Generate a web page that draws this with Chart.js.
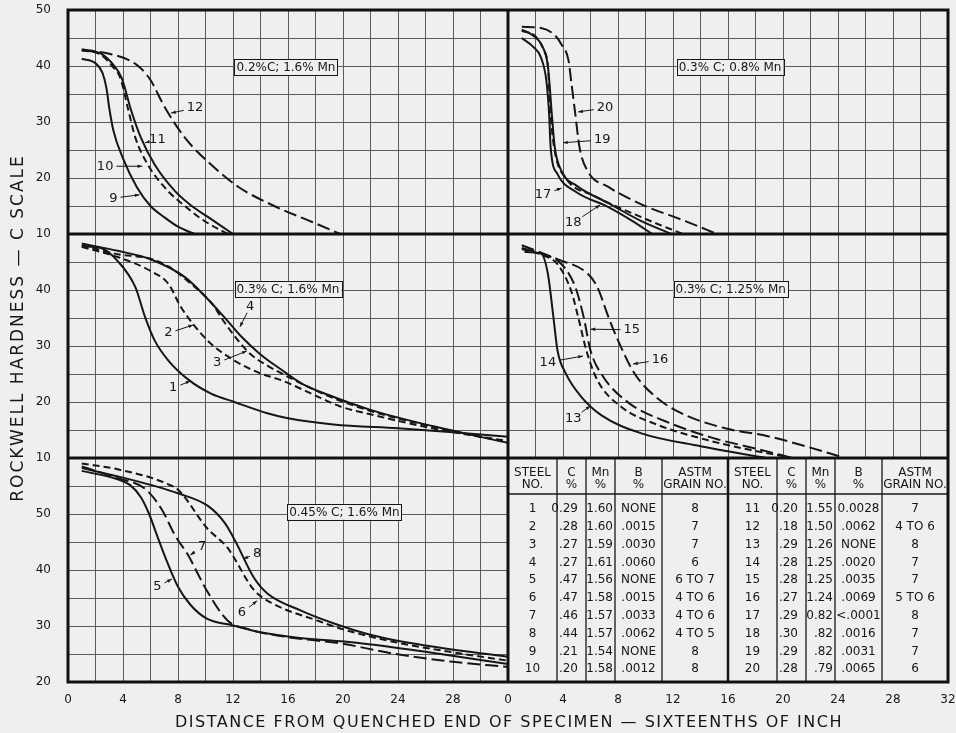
<!DOCTYPE html>
<html>
<head>
<meta charset="utf-8">
<title>End-quench hardenability curves</title>
<script src="https://cdn.jsdelivr.net/npm/chart.js@4.4.1/dist/chart.umd.min.js"></script>
<style>
  html, body { margin: 0; padding: 0; background: #efefef; }
  canvas { display: block; }
</style>
</head>
<body>
<canvas id="myChart" width="956" height="733"></canvas>
<script>
// Rockwell C hardness vs distance from quenched end (sixteenths of inch)

// 0.2% C; 1.6% Mn
var steel9 = [[1, 41.3], [2, 40.5], [2.5, 38.8], [2.8, 36], [3, 32.5], [3.3, 28.5], [4, 23.5], [5, 18.4], [6, 15], [7, 13], [8, 11.3], [9.2, 10]];
var steel10 = [[1, 42.8], [2.4, 42], [3.2, 40], [3.8, 37.9], [4.4, 32], [4.9, 27.2], [5.8, 22.4], [7.3, 17.6], [8.5, 15], [9.7, 12.7], [11.4, 10.3], [11.7, 10]];
var steel11 = [[1, 43], [2.4, 42.2], [3.3, 40.2], [3.9, 37.9], [4.6, 32], [5.3, 27.2], [6.3, 22.4], [7.8, 17.6], [9, 15], [10.2, 13], [12, 10]];
var steel12 = [[1, 42.8], [3, 42.2], [5, 40.2], [6, 37.5], [7, 32.8], [8.5, 27.2], [10.4, 22.4], [12.4, 18.4], [15, 15], [17.8, 12.1], [19.8, 10]];

// 0.3% C; 0.8% Mn
var steel17 = [[1, 45], [1.8, 43.5], [2.4, 41.5], [2.8, 37.2], [3, 31], [3.1, 25.5], [3.6, 20.7], [4.9, 17.6], [7.3, 14.8], [9, 12.4], [10.5, 10]];
var steel18 = [[1, 46.5], [1.8, 45.5], [2.5, 43.5], [2.9, 40], [3.2, 31], [3.4, 25.5], [3.9, 21.2], [5, 18.6], [7.3, 15.5], [9.7, 12.3], [11.9, 10]];
var steel19 = [[1, 46.3], [2, 45.3], [2.6, 42.8], [2.9, 40], [3.1, 31.3], [3.4, 24.8], [4.2, 20], [6.3, 16.8], [9.7, 13], [12.7, 10]];
var steel20 = [[1, 47], [2.4, 46.8], [3.4, 45.5], [3.9, 43.8], [4.4, 41], [4.6, 37.2], [4.9, 31.3], [5.2, 25.5], [5.8, 21.2], [7.3, 18.4], [9.7, 15.3], [12.9, 12.3], [15.2, 10]];

// 0.3% C; 1.6% Mn
var steel1 = [[1, 47.8], [2.4, 47.5], [3.6, 45.2], [4.9, 40.5], [5.6, 35.2], [6.3, 31], [7.3, 27.4], [8.8, 23.9], [10.4, 21.5], [12.1, 20], [14.5, 18], [16, 17.1], [19.3, 16], [24, 15.3], [28, 14.6], [32, 13.8]];
var steel2 = [[1, 47.7], [3.6, 45.9], [6, 43.4], [7.3, 41.1], [8.2, 37], [9.2, 33.6], [10.4, 30.4], [12.1, 27.4], [14, 25.1], [15.5, 23.9], [18.4, 20.7], [19.8, 19.2], [22, 17.8], [26.5, 15.3], [32, 13]];
var steel3 = [[1, 48], [3.6, 46.4], [6, 45.6], [7.3, 44.2], [9, 41], [10.5, 37.5], [11.3, 34.5], [12.3, 31.2], [13.3, 28.5], [14.5, 26.5], [16, 24.5], [19, 21], [22, 18.4], [26.5, 15.6], [32, 12.8]];
var steel4 = [[1, 48.3], [3.6, 47], [6, 45.5], [8.5, 42.3], [10, 38.8], [11.6, 34.5], [12.6, 31.7], [14, 28.5], [15.5, 25.8], [17, 23.3], [19, 21.2], [22, 18.6], [26.5, 15.7], [32, 12.7]];

// 0.3% C; 1.25% Mn
var steel13 = [[1.2, 46.8], [2.4, 46.5], [2.9, 42.9], [3.3, 35.2], [3.6, 29.2], [4.2, 25.1], [5.3, 21], [6.8, 17.6], [9.7, 14.4], [14, 12.1], [18.8, 10]];
var steel14 = [[1, 47.3], [2.4, 46.3], [3.6, 44.6], [4.6, 39.8], [5.1, 35.2], [5.7, 29.2], [6.5, 23.9], [8.2, 19.2], [10.9, 15.9], [14.5, 13.2], [17.5, 11.5], [20.7, 10]];
var steel15 = [[1, 47.5], [2.4, 46.5], [3.9, 44.6], [4.9, 40.5], [5.5, 35.2], [6, 29.2], [6.9, 24.6], [8.8, 19.8], [11.4, 16.6], [15, 13.5], [18, 11.7], [20.7, 10]];
var steel16 = [[1, 48], [3.6, 45.5], [5.8, 42.9], [6.5, 40.5], [7.3, 35.2], [8, 31], [9.2, 25.1], [10.7, 21], [12.6, 18], [15.8, 15.3], [18.9, 13.9], [21.5, 12.2], [24.5, 10]];

// 0.45% C; 1.6% Mn
var steel5 = [[1, 57.7], [3.6, 56.2], [4.5, 55.2], [5.3, 53], [5.9, 50], [6.5, 46], [7.2, 41.5], [8, 37], [8.9, 33.8], [10.1, 31.3], [12, 30.1], [14, 28.9], [16.4, 28], [21, 27], [26, 25.4], [32, 23.2]];
var steel6 = [[1, 59], [3.6, 58], [7.3, 55.3], [8.1, 54.1], [10.1, 47.5], [11.6, 44], [12, 42.5], [13.5, 36.5], [14.9, 34], [18.1, 31], [20, 29.4], [24, 27], [28, 25.3], [32, 23.8]];
var steel7 = [[1, 58.5], [3.6, 56.4], [5.6, 54.5], [6.8, 50.9], [7.8, 46.1], [8.7, 42.8], [10.1, 36.3], [11.6, 31], [13, 29.5], [16, 28], [19.8, 26.9], [23.6, 25.1], [28, 23.6], [32, 22.7]];
var steel8 = [[1, 58.2], [4, 56.5], [8, 53.7], [10.2, 51.4], [11.4, 48.4], [12.2, 45], [13.5, 38.7], [14.5, 35.8], [16.9, 32.8], [19.3, 30.5], [22.2, 28.3], [26, 26.5], [32, 24.5]];

// tick labels
var xLeftLabels = [0, 4, 8, 12, 16, 20, 24, 28];
var xRightLabels = [0, 4, 8, 12, 16, 20, 24, 28, 32];
var yTopLabels = [10, 20, 30, 40, 50];
var yMidLabels = [10, 20, 30, 40];
var yBotLabels = [20, 30, 40, 50];

var panelNames = ["0.2%C; 1.6% Mn", "0.3% C; 0.8% Mn", "0.3% C; 1.6% Mn", "0.3% C; 1.25% Mn", "0.45% C; 1.6% Mn"];

// composition table
var steelNo = ["1", "2", "3", "4", "5", "6", "7", "8", "9", "10", "11", "12", "13", "14", "15", "16", "17", "18", "19", "20"];
var carbonPct = ["0.29", ".28", ".27", ".27", ".47", ".47", ".46", ".44", ".21", ".20", "0.20", ".18", ".29", ".28", ".28", ".27", ".29", ".30", ".29", ".28"];
var manganesePct = ["1.60", "1.60", "1.59", "1.61", "1.56", "1.58", "1.57", "1.57", "1.54", "1.58", "1.55", "1.50", "1.26", "1.25", "1.25", "1.24", "0.82", ".82", ".82", ".79"];
var boronPct = ["NONE", ".0015", ".0030", ".0060", "NONE", ".0015", ".0033", ".0062", "NONE", ".0012", "0.0028", ".0062", "NONE", ".0020", ".0035", ".0069", "<.0001", ".0016", ".0031", ".0065"];
var grainNo = ["8", "7", "7", "6", "6 TO 7", "4 TO 6", "4 TO 6", "4 TO 5", "8", "8", "7", "4 TO 6", "8", "7", "7", "5 TO 6", "8", "7", "7", "6"];
var tableHead = [["STEEL", "NO."], ["C", "%"], ["Mn", "%"], ["B", "%"], ["ASTM", "GRAIN NO."]];

// ---- drawing ----
var ink = "#161616";
var gridInk = "#5c5c5c";
var paper = "#efefef";
var fontFamily = "'DejaVu Sans', sans-serif";

var solid = [];
var dashed = [7, 4];
var longDash = [13, 5];

function pts(arr) {
  return arr.map(function(p) { return { x: p[0], y: p[1] }; });
}

function curve(label, arr, xId, yId, dash) {
  return {
    label: label,
    data: pts(arr),
    xAxisID: xId,
    yAxisID: yId,
    borderColor: ink,
    borderWidth: 2,
    borderDash: dash,
    pointRadius: 0,
    fill: false,
    cubicInterpolationMode: "monotone"
  };
}

var datasets = [
  curve("9", steel9, "xL", "yTop", solid),
  curve("10", steel10, "xL", "yTop", dashed),
  curve("11", steel11, "xL", "yTop", solid),
  curve("12", steel12, "xL", "yTop", longDash),
  curve("17", steel17, "xR", "yTop", solid),
  curve("18", steel18, "xR", "yTop", solid),
  curve("19", steel19, "xR", "yTop", dashed),
  curve("20", steel20, "xR", "yTop", longDash),
  curve("1", steel1, "xL", "yMid", solid),
  curve("2", steel2, "xL", "yMid", dashed),
  curve("3", steel3, "xL", "yMid", dashed),
  curve("4", steel4, "xL", "yMid", solid),
  curve("13", steel13, "xR", "yMid", solid),
  curve("14", steel14, "xR", "yMid", dashed),
  curve("15", steel15, "xR", "yMid", longDash),
  curve("16", steel16, "xR", "yMid", longDash),
  curve("5", steel5, "xL", "yBot", solid),
  curve("6", steel6, "xL", "yBot", dashed),
  curve("7", steel7, "xL", "yBot", longDash),
  curve("8", steel8, "xL", "yBot", solid)
];

// where the curve numbers sit (text x,y then arrow tip x,y, in axis units)
var tagSpots = [
  ["12", "xL", "yTop", 9.24, 32.5, 7.5, 31.6],
  ["11", "xL", "yTop", 6.5, 26.8, 5.6, 26.3],
  ["10", "xL", "yTop", 2.7, 22.1, 5.4, 22.1],
  ["9", "xL", "yTop", 3.3, 16.4, 5.2, 17],
  ["20", "xR", "yTop", 7.05, 32.5, 5.1, 31.8],
  ["19", "xR", "yTop", 6.85, 26.8, 4.0, 26.3],
  ["17", "xR", "yTop", 2.55, 17, 3.9, 18.2],
  ["18", "xR", "yTop", 4.75, 12, 6.7, 15.2],
  ["4", "xL", "yMid", 13.25, 37, 12.5, 33.4],
  ["2", "xL", "yMid", 7.3, 32.3, 9.1, 33.75],
  ["3", "xL", "yMid", 10.85, 27, 13.0, 29.1],
  ["1", "xL", "yMid", 7.65, 22.5, 8.9, 23.75],
  ["15", "xR", "yMid", 9.0, 32.9, 6.0, 33.0],
  ["16", "xR", "yMid", 11.05, 27.5, 9.1, 26.8],
  ["14", "xR", "yMid", 2.9, 27.1, 5.45, 28.2],
  ["13", "xR", "yMid", 4.75, 17.1, 6.0, 19.3],
  ["7", "xL", "yBot", 9.75, 44.1, 8.9, 42.7],
  ["8", "xL", "yBot", 13.75, 42.9, 12.75, 42],
  ["5", "xL", "yBot", 6.5, 37, 7.55, 38.4],
  ["6", "xL", "yBot", 12.65, 32.3, 13.75, 34.5]
];

var panelSpots = [
  ["xL", "yTop", 15.85, 39.8],
  ["xR", "yTop", 16.15, 39.8],
  ["xL", "yMid", 16.0, 40.2],
  ["xR", "yMid", 16.2, 40.2],
  ["xL", "yBot", 20.1, 50.4]
];

function pickLabel(list) {
  return function(v) { return list.indexOf(v) >= 0 ? String(v) : ""; };
}

function noEdgePadding(scale) {
  scale.paddingLeft = 0;
  scale.paddingRight = 0;
  scale.paddingTop = 0;
  scale.paddingBottom = 0;
}

function yAxis(min, max, labels, weight) {
  return {
    type: "linear",
    position: "left",
    stack: "hardness",
    weight: weight,
    min: min,
    max: max,
    grid: { color: gridInk, lineWidth: 1, drawTicks: false },
    border: { display: false },
    ticks: {
      stepSize: 5,
      autoSkip: false,
      padding: 17,
      color: ink,
      font: { family: fontFamily, size: 12 },
      callback: pickLabel(labels)
    },
    afterFit: function(scale) { scale.width = 68; noEdgePadding(scale); }
  };
}

function xAxis(labels, weight) {
  return {
    type: "linear",
    position: "bottom",
    stack: "distance",
    weight: weight,
    min: 0,
    max: 32,
    grid: { color: gridInk, lineWidth: 1, drawTicks: false },
    border: { display: false },
    ticks: {
      stepSize: 2,
      autoSkip: false,
      maxRotation: 0,
      padding: 11,
      color: ink,
      font: { family: fontFamily, size: 12 },
      callback: pickLabel(labels)
    },
    afterFit: function(scale) { scale.height = 51; noEdgePadding(scale); }
  };
}

function arrowTo(ctx, sx, sy, qx, qy) {
  ctx.beginPath();
  ctx.moveTo(sx, sy);
  ctx.lineTo(qx, qy);
  ctx.stroke();
  var ang = Math.atan2(qy - sy, qx - sx);
  ctx.beginPath();
  ctx.moveTo(qx, qy);
  ctx.lineTo(qx - 5 * Math.cos(ang - 0.35), qy - 5 * Math.sin(ang - 0.35));
  ctx.lineTo(qx - 5 * Math.cos(ang + 0.35), qy - 5 * Math.sin(ang + 0.35));
  ctx.closePath();
  ctx.fill();
}

var sheetPlugin = {
  id: "sheet",
  beforeDraw: function(chart) {
    var ctx = chart.ctx;
    ctx.save();
    ctx.fillStyle = paper;
    ctx.fillRect(0, 0, chart.width, chart.height);
    ctx.restore();
  },
  afterDraw: function(chart) {
    var ctx = chart.ctx, a = chart.chartArea, s = chart.scales;
    ctx.save();

    // composition table in the lower right panel
    var tx0 = s.xR.left, tx1 = s.xR.right, ty0 = s.yBot.top, ty1 = s.yBot.bottom;
    ctx.fillStyle = paper;
    ctx.fillRect(tx0, ty0, tx1 - tx0, ty1 - ty0);
    var half = (tx1 - tx0) / 2;
    var widths = [49, 29, 29, 47, 66];
    var sum = widths.reduce(function(p, c) { return p + c; }, 0);
    ctx.strokeStyle = ink;
    ctx.fillStyle = ink;
    ctx.font = "12px " + fontFamily;
    ctx.textBaseline = "middle";
    var headLine = ty0 + 36;
    ctx.lineWidth = 1.3;
    ctx.beginPath();
    ctx.moveTo(tx0, headLine);
    ctx.lineTo(tx1, headLine);
    ctx.stroke();
    for (var h = 0; h < 2; h++) {
      var cx = tx0 + h * half;
      for (var c = 0; c < widths.length; c++) {
        var w = widths[c] * half / sum;
        var left = cx, right = cx + w;
        if (c > 0 || h > 0) {
          ctx.lineWidth = (c === 0 && h === 1) ? 2.5 : 1.3;
          ctx.beginPath();
          ctx.moveTo(left, ty0);
          ctx.lineTo(left, ty1);
          ctx.stroke();
        }
        ctx.textAlign = "center";
        ctx.fillText(tableHead[c][0], (left + right) / 2, ty0 + 15);
        ctx.fillText(tableHead[c][1], (left + right) / 2, ty0 + 27);
        var col = [steelNo, carbonPct, manganesePct, boronPct, grainNo][c];
        for (var r = 0; r < 10; r++) {
          var ry = ty0 + 51 + r * 17.8;
          var txt = col[h * 10 + r];
          if (c === 1) { ctx.textAlign = "right"; ctx.fillText(txt, right - 8, ry); }
          else if (c === 2) { ctx.textAlign = "right"; ctx.fillText(txt, right - 2, ry); }
          else { ctx.textAlign = "center"; ctx.fillText(txt, (left + right) / 2, ry); }
        }
        cx = right;
      }
    }

    // heavy panel frame
    ctx.lineWidth = 3;
    ctx.strokeStyle = "#111";
    ctx.strokeRect(a.left, a.top, a.right - a.left, a.bottom - a.top);
    ctx.beginPath();
    ctx.moveTo(a.left, s.yTop.bottom); ctx.lineTo(a.right, s.yTop.bottom);
    ctx.moveTo(a.left, s.yMid.bottom); ctx.lineTo(a.right, s.yMid.bottom);
    ctx.moveTo(s.xL.right, a.top); ctx.lineTo(s.xL.right, a.bottom);
    ctx.stroke();

    // panel names in boxes
    ctx.font = "12px " + fontFamily;
    ctx.textAlign = "center";
    ctx.textBaseline = "middle";
    ctx.lineWidth = 1;
    panelSpots.forEach(function(p, i) {
      var px = s[p[0]].getPixelForValue(p[2]), py = s[p[1]].getPixelForValue(p[3]);
      var tw = ctx.measureText(panelNames[i]).width;
      ctx.fillStyle = paper;
      ctx.fillRect(px - tw / 2 - 2, py - 8, tw + 4, 16);
      ctx.strokeStyle = ink;
      ctx.strokeRect(Math.round(px - tw / 2 - 2) + 0.5, Math.round(py - 8) + 0.5, Math.round(tw + 4), 16);
      ctx.fillStyle = ink;
      ctx.fillText(panelNames[i], px, py + 1);
    });

    // curve numbers with leaders
    ctx.font = "13px " + fontFamily;
    ctx.lineWidth = 1;
    tagSpots.forEach(function(t) {
      var xs = s[t[1]], ys = s[t[2]];
      var px = xs.getPixelForValue(t[3]), py = ys.getPixelForValue(t[4]);
      var qx = xs.getPixelForValue(t[5]), qy = ys.getPixelForValue(t[6]);
      ctx.fillStyle = ink;
      ctx.strokeStyle = ink;
      ctx.fillText(t[0], px, py);
      var hw = ctx.measureText(t[0]).width / 2 + 3, hh = 6;
      var dx = qx - px, dy = qy - py, len = Math.sqrt(dx * dx + dy * dy);
      var ux = dx / len, uy = dy / len;
      var k = Math.min(Math.abs(ux) > 0.001 ? hw / Math.abs(ux) : 1e9, Math.abs(uy) > 0.001 ? hh / Math.abs(uy) : 1e9);
      arrowTo(ctx, px + ux * k, py + uy * k, qx, qy);
    });

    // axis titles
    ctx.fillStyle = ink;
    ctx.textAlign = "center";
    ctx.textBaseline = "middle";
    ctx.save();
    ctx.font = "17px " + fontFamily;
    ctx.letterSpacing = "2px";
    ctx.translate(19, 328);
    ctx.rotate(-Math.PI / 2);
    ctx.fillText("ROCKWELL HARDNESS \u2014 C SCALE", 0, 0);
    ctx.restore();
    ctx.font = "16px " + fontFamily;
    ctx.letterSpacing = "1.5px";
    ctx.fillText("DISTANCE FROM QUENCHED END OF SPECIMEN \u2014 SIXTEENTHS OF INCH", 509, 723);
    ctx.restore();
  }
};

var chart = new Chart(document.getElementById("myChart"), {
  type: "line",
  data: { datasets: datasets },
  options: {
    responsive: false,
    animation: false,
    devicePixelRatio: 1,
    layout: { padding: { top: 10, right: 8, left: 0, bottom: 0 } },
    plugins: { legend: { display: false }, tooltip: { enabled: false } },
    scales: {
      yTop: yAxis(10, 50, yTopLabels, 3),
      yMid: yAxis(10, 50, yMidLabels, 2),
      yBot: yAxis(20, 60, yBotLabels, 1),
      xL: xAxis(xLeftLabels, 0),
      xR: xAxis(xRightLabels, 1)
    }
  },
  plugins: [sheetPlugin]
});
</script>
</body>
</html>
